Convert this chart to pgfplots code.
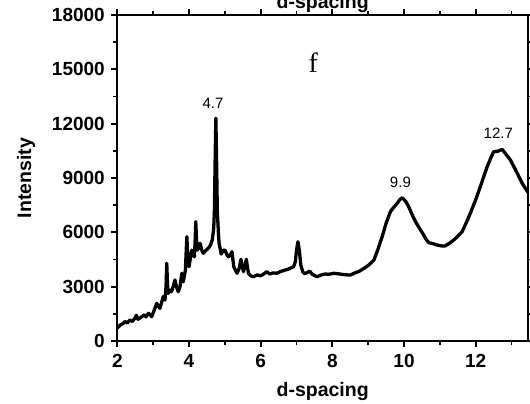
\documentclass[border=0pt]{standalone}
\usepackage{pgfplots}
\pgfplotsset{compat=1.18}
\usepackage{fontspec}
\setmainfont{Liberation Sans}
\newfontfamily\timesf{Liberation Serif}
\usetikzlibrary{calc}
\begin{document}
\begin{tikzpicture}
\begin{axis}[
  name=ax,
  scale only axis,
  width=410.7bp, height=326bp,
  xmin=2, xmax=13.46, ymin=0, ymax=18000,
  xtick={2,4,...,12}, minor xtick={3,5,...,13},
  ytick={0,3000,...,18000}, minor ytick={1500,4500,...,16500},
  tick align=outside,
  major tick length=6bp, minor tick length=4bp,
  every tick/.style={line width=1.8bp, black},
  axis line style={line width=2.4bp},
  scaled y ticks=false,
  /pgf/number format/assume math mode=true,
  /pgf/number format/set thousands separator={},
  ticklabel style={font=\fontsize{19bp}{20bp}\selectfont\bfseries},
  xticklabel style={yshift=-4bp},
  yticklabel style={xshift=-3bp},
  xlabel={d-spacing}, ylabel={Intensity},
  label style={font=\fontsize{19.5bp}{21bp}\selectfont\bfseries},
  xlabel style={yshift=-8bp},
  ylabel style={yshift=10bp},
  title={d-spacing},
  title style={font=\fontsize{19.5bp}{21bp}\selectfont\bfseries, yshift=-7bp},
  clip=true,
]
\addplot[black, line width=3.3bp, line join=round] coordinates {
(2.00,720) (2.08,880) (2.15,950) (2.21,1070) (2.28,1000) (2.35,1160) (2.42,1080)
(2.49,1250) (2.53,1420) (2.58,1200) (2.68,1340) (2.75,1450) (2.80,1330) (2.87,1530)
(2.93,1430) (2.96,1340) (3.03,1700) (3.10,2080) (3.15,1900) (3.19,1800) (3.24,2150)
(3.28,2450) (3.33,2260) (3.36,3000) (3.38,4290) (3.40,3200) (3.42,2630) (3.47,2800)
(3.51,2720) (3.56,3000) (3.61,3370) (3.65,3000) (3.70,2720) (3.75,3000) (3.80,3740)
(3.84,3270) (3.90,3900) (3.94,5760) (3.97,4600) (4.00,4100) (4.05,4700) (4.08,5020)
(4.12,4800) (4.15,4650) (4.17,5400) (4.19,6590) (4.21,5600) (4.24,5020) (4.28,5300)
(4.31,5390) (4.36,5000) (4.40,4840) (4.47,5000) (4.54,5120) (4.60,5300) (4.65,5580)
(4.69,6200) (4.71,7230) (4.73,10000) (4.75,12300) (4.77,10000) (4.79,7230) (4.82,6000)
(4.84,5390) (4.90,4800) (4.96,5020) (5.01,5000) (5.06,4750) (5.10,4650) (5.15,4750)
(5.20,4930) (5.25,4100) (5.30,3900) (5.34,3740) (5.40,4000) (5.45,4510) (5.49,4100)
(5.52,3830) (5.56,4100) (5.60,4510) (5.63,4100) (5.66,3740) (5.72,3600) (5.80,3550)
(5.90,3650) (6.00,3600) (6.10,3720) (6.17,3830) (6.25,3700) (6.35,3760) (6.45,3740)
(6.55,3830) (6.65,3900) (6.75,3950) (6.82,4010) (6.92,4100) (6.97,4400) (7.00,5000)
(7.04,5480) (7.08,5000) (7.12,4200) (7.18,3800) (7.23,3720) (7.30,3780) (7.37,3860)
(7.43,3700) (7.50,3620) (7.57,3550) (7.70,3650) (7.80,3700) (7.90,3680) (8.04,3740)
(8.20,3700) (8.35,3660) (8.50,3640) (8.62,3750) (8.75,3850) (8.88,4010) (9.02,4200)
(9.16,4470) (9.28,5100) (9.39,5760) (9.50,6500) (9.62,7140) (9.72,7400) (9.81,7600)
(9.88,7800) (9.95,7910) (10.05,7700) (10.13,7420) (10.22,7000) (10.32,6590) (10.44,6200)
(10.55,5850) (10.62,5600) (10.69,5430) (10.80,5380) (10.92,5300) (11.05,5250)
(11.15,5250) (11.27,5400) (11.39,5580) (11.50,5780) (11.62,6030) (11.73,6500)
(11.85,7050) (12.00,7800) (12.13,8520) (12.22,9050) (12.32,9620) (12.42,10100)
(12.50,10450) (12.62,10480) (12.74,10580) (12.85,10300) (12.97,9990) (13.06,9650)
(13.16,9260) (13.30,8700) (13.48,8150)
};
\node[font=\fontsize{15bp}{16bp}\selectfont] at (axis cs:4.67,13140) {4.7};
\node[font=\fontsize{15bp}{16bp}\selectfont] at (axis cs:9.9,8780) {9.9};
\node[font=\fontsize{15bp}{16bp}\selectfont] at (axis cs:12.63,11480) {12.7};
\node[font=\timesf\fontsize{28bp}{30bp}\selectfont] at (axis cs:7.47,15350) {f};
\end{axis}
\pgfresetboundingbox
\useasboundingbox ($(ax.south west)+(-117.3bp,-63bp)$) rectangle ($(ax.north east)+(2bp,15bp)$);
\end{tikzpicture}
\end{document}
